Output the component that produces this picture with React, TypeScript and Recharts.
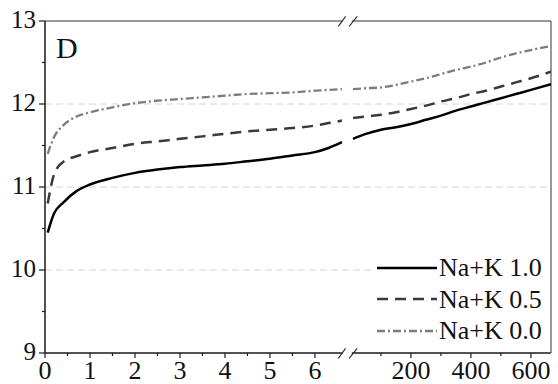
import { CartesianGrid, Legend, Line, LineChart, ReferenceLine, XAxis, YAxis } from 'recharts'

// left part of the broken axis (0 - 6.7), right part (0 - 667)
const leftTime = [0.06, 0.2, 0.4, 0.7, 1, 1.5, 2, 2.5, 3, 3.5, 4, 4.5, 5, 5.5, 6, 6.3, 6.6]
const naK10Left = [10.45, 10.68, 10.81, 10.95, 11.03, 11.11, 11.17, 11.21, 11.24, 11.26, 11.28, 11.31, 11.34, 11.38, 11.42, 11.47, 11.54]
const naK05Left = [10.8, 11.15, 11.3, 11.37, 11.42, 11.47, 11.52, 11.55, 11.58, 11.61, 11.64, 11.67, 11.69, 11.71, 11.74, 11.77, 11.8]
const naK00Left = [11.4, 11.6, 11.74, 11.85, 11.9, 11.96, 12.01, 12.04, 12.06, 12.08, 12.1, 12.12, 12.13, 12.14, 12.16, 12.17, 12.18]

const rightTime = [7, 50, 100, 150, 200, 250, 300, 350, 400, 450, 500, 550, 600, 667]
const naK10Right = [11.58, 11.64, 11.69, 11.72, 11.76, 11.81, 11.86, 11.92, 11.97, 12.02, 12.07, 12.12, 12.17, 12.24]
const naK05Right = [11.83, 11.85, 11.87, 11.9, 11.94, 11.98, 12.03, 12.07, 12.12, 12.16, 12.21, 12.26, 12.31, 12.39]
const naK00Right = [12.18, 12.19, 12.2, 12.23, 12.27, 12.31, 12.36, 12.41, 12.45, 12.5, 12.56, 12.61, 12.65, 12.7]

const leftTicks = [0, 1, 2, 3, 4, 5, 6]
const leftMinorTicks = [0.5, 1.5, 2.5, 3.5, 4.5, 5.5]
const rightTicks = [200, 400, 600]
const rightMinorTicks = [100, 300, 500]
const yTicks = [9, 10, 11, 12, 13]
const yMinorTicks = [9.5, 10.5, 11.5, 12.5]
const gridValues = [10, 11, 12]

const seriesNames = ['Na+K 1.0', 'Na+K 0.5', 'Na+K 0.0']

// broken axis: right segment squeezed after the left one
const RIGHT_START = 6.8
const RIGHT_PER_UNIT = 150
const RIGHT_END = 667
const toU = (t: number) => RIGHT_START + t / RIGHT_PER_UNIT
const U_MAX = toU(RIGHT_END)
const BREAK_LEFT = 6.62
const BREAK_RIGHT = 6.82

const rows = [
  ...leftTime.map((t, i) => ({ u: t, s10: naK10Left[i], s05: naK05Left[i], s00: naK00Left[i] })),
  { u: 6.72, s10: null, s05: null, s00: null },
  ...rightTime.map((t, i) => ({ u: toU(t), s10: naK10Right[i], s05: naK05Right[i], s00: naK00Right[i] })),
]

const xMajor = [
  ...leftTicks.map((v) => ({ u: v, label: String(v) })),
  ...rightTicks.map((v) => ({ u: toU(v), label: String(v) })),
]
const xAllTicks = [...xMajor.map((t) => t.u), ...leftMinorTicks, ...rightMinorTicks.map(toU)].sort((a, b) => a - b)

const FONT = '"Liberation Serif", "Times New Roman", serif'
const AXIS = '#1a1a1a'
const FRAME = '#777'

const styles = [
  { key: 's10', color: '#000', dash: undefined, width: 2.5 },
  { key: 's05', color: '#3a3a3a', dash: '11 7', width: 2.5 },
  { key: 's00', color: '#7c7c7c', dash: '8 3 2 3', width: 2.3 },
]

function XTick({ x, y, payload }: any) {
  const m = xMajor.find((t) => Math.abs(t.u - payload.value) < 1e-6)
  return (
    <g>
      <line x1={x} x2={x} y1={y} y2={y + (m ? 5 : 3)} stroke={AXIS} strokeWidth={1.2} />
      {m && (
        <text x={x} y={y + 25.5} textAnchor="middle" fontSize={26} fontFamily={FONT} fill="#111">
          {m.label}
        </text>
      )}
    </g>
  )
}

function YTick({ x, y, payload }: any) {
  const major = yTicks.includes(payload.value)
  return (
    <g>
      <line x1={x - (major ? 6 : 3)} x2={x} y1={y} y2={y} stroke={AXIS} strokeWidth={1.2} />
      {major && (
        <text x={x - 9} y={y + 7} textAnchor="end" fontSize={25} fontFamily={FONT} fill="#111">
          {payload.value}
        </text>
      )}
    </g>
  )
}

function LegendBox() {
  return (
    <div style={{ background: '#fff', width: 175, fontFamily: FONT }}>
      {styles.map((s, i) => (
        <div key={s.key} style={{ display: 'flex', alignItems: 'center', height: 31.5 }}>
          <svg width={66} height={10}>
            <line x1={5} x2={65} y1={5} y2={5} stroke={s.color} strokeWidth={s.width} strokeDasharray={s.dash} />
          </svg>
          <span style={{ fontSize: 26, lineHeight: '31px', color: '#111', marginLeft: 1 }}>{seriesNames[i]}</span>
        </div>
      ))}
    </div>
  )
}

const slash = (u0: number, u1: number, y: number) => [
  { x: u0, y: y - 0.065 },
  { x: u1, y: y + 0.055 },
]

export default function App() {
  return (
    <div style={{ position: 'absolute', left: 0, top: 0, width: 558, height: 384, background: '#fff' }}>
      <LineChart width={558} height={384} data={rows} margin={{ top: 21, right: 7, bottom: 0, left: 0 }}>
        <CartesianGrid vertical={false} horizontalValues={gridValues} stroke="#d4d4d4" strokeDasharray="7 4" />
        <XAxis
          dataKey="u"
          type="number"
          domain={[0, U_MAX]}
          ticks={xAllTicks}
          interval={0}
          tick={XTick}
          tickLine={false}
          axisLine={false}
          tickSize={0}
          tickMargin={0}
          height={31}
          allowDataOverflow
        />
        <YAxis
          type="number"
          domain={[9, 13]}
          ticks={[...yTicks, ...yMinorTicks].sort((a, b) => a - b)}
          interval={0}
          tick={YTick}
          tickLine={false}
          axisLine={{ stroke: AXIS, strokeWidth: 1.5 }}
          tickSize={0}
          tickMargin={0}
          width={45}
        />
        {/* frame with the axis break */}
        <ReferenceLine segment={[{ x: 0, y: 13 }, { x: BREAK_LEFT, y: 13 }]} stroke={FRAME} strokeWidth={1.5} ifOverflow="visible" />
        <ReferenceLine segment={[{ x: BREAK_RIGHT, y: 13 }, { x: U_MAX, y: 13 }]} stroke={FRAME} strokeWidth={1.5} ifOverflow="visible" />
        <ReferenceLine segment={[{ x: 0, y: 9 }, { x: BREAK_LEFT, y: 9 }]} stroke={AXIS} strokeWidth={1.5} ifOverflow="visible" />
        <ReferenceLine segment={[{ x: BREAK_RIGHT, y: 9 }, { x: U_MAX, y: 9 }]} stroke={AXIS} strokeWidth={1.5} ifOverflow="visible" />
        <ReferenceLine segment={[{ x: U_MAX, y: 9 }, { x: U_MAX, y: 13 }]} stroke={FRAME} strokeWidth={1.5} ifOverflow="visible" />
        <ReferenceLine segment={slash(6.52, 6.68, 13)} stroke="#333" strokeWidth={1.2} ifOverflow="visible" />
        <ReferenceLine segment={slash(6.76, 6.94, 13)} stroke="#333" strokeWidth={1.2} ifOverflow="visible" />
        <ReferenceLine segment={slash(6.52, 6.68, 9)} stroke="#333" strokeWidth={1.2} ifOverflow="visible" />
        <ReferenceLine segment={slash(6.76, 6.94, 9)} stroke="#333" strokeWidth={1.2} ifOverflow="visible" />
        {styles.map((s, i) => (
          <Line
            key={s.key}
            dataKey={s.key}
            name={seriesNames[i]}
            type="monotone"
            stroke={s.color}
            strokeWidth={s.width}
            strokeDasharray={s.dash}
            dot={false}
            activeDot={false}
            connectNulls={false}
            isAnimationActive={false}
          />
        ))}
        <Legend
          layout="vertical"
          align="center"
          verticalAlign="middle"
          content={LegendBox}
          wrapperStyle={{ position: 'absolute', left: 372, top: 252, width: 175, margin: 0 }}
        />
      </LineChart>
      <div
        style={{ position: 'absolute', left: 56, top: 33, fontFamily: FONT, fontSize: 30, lineHeight: '30px', color: '#111' }}
      >
        D
      </div>
    </div>
  )
}
